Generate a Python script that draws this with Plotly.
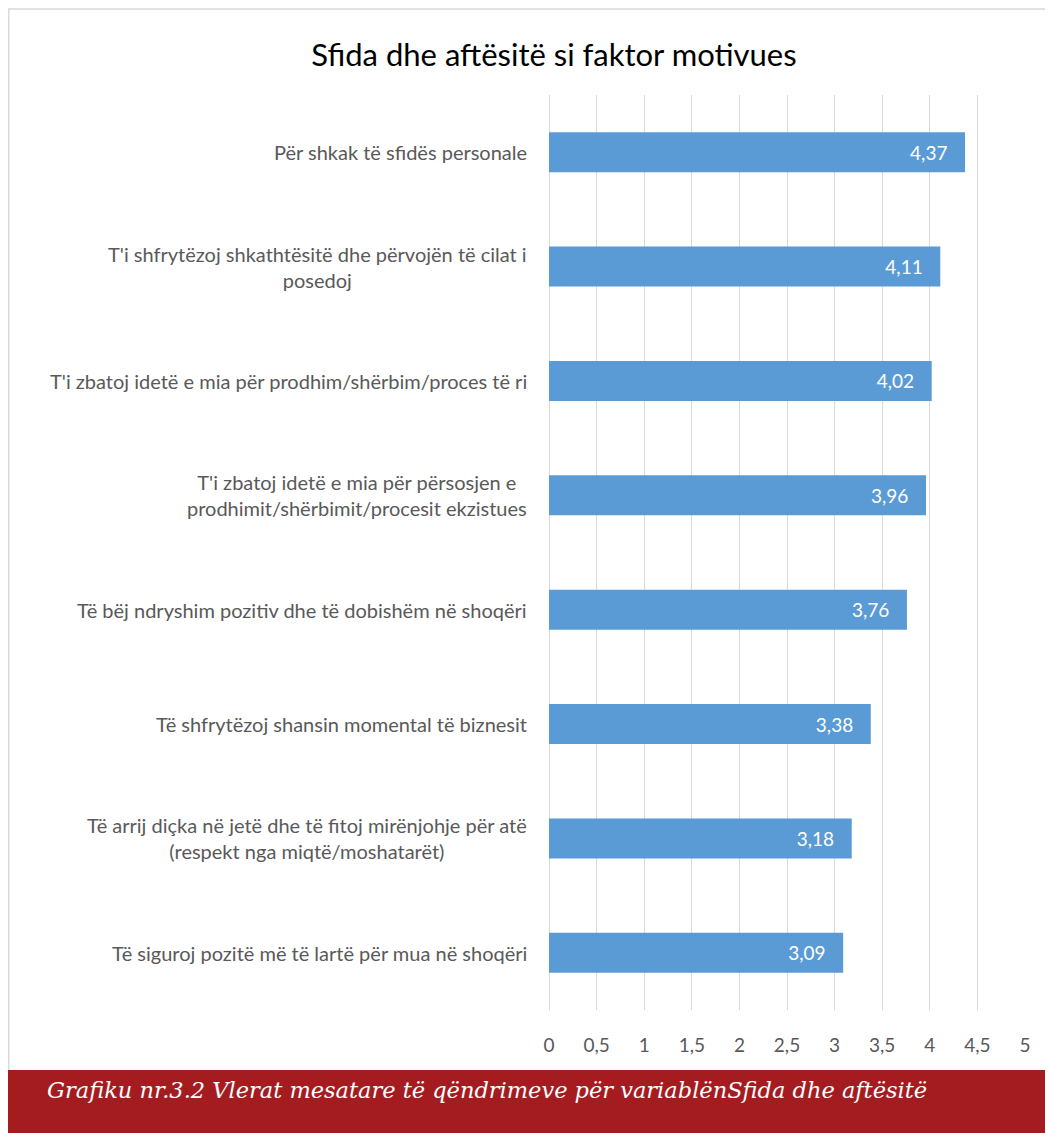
import plotly.graph_objects as go

categories = [
    "Për shkak të sfidës personale",
    "T'i shfrytëzoj shkathtësitë dhe përvojën të cilat i<br>posedoj",
    "T'i zbatoj idetë e mia për prodhim/shërbim/proces të ri",
    "T'i zbatoj idetë e mia për përsosjen e<br>prodhimit/shërbimit/procesit ekzistues",
    "Të bëj ndryshim pozitiv dhe të dobishëm në shoqëri",
    "Të shfrytëzoj shansin momental të biznesit",
    "Të arrij diçka në jetë dhe të fitoj mirënjohje për atë<br>(respekt nga miqtë/moshatarët)",
    "Të siguroj pozitë më të lartë për mua në shoqëri",
]
values = [4.37, 4.11, 4.02, 3.96, 3.76, 3.38, 3.18, 3.09]
tick_values = [0, 0.5, 1, 1.5, 2, 2.5, 3, 3.5, 4, 4.5, 5]
title_text = "Sfida dhe aftësitë si faktor motivues"
caption_text = "Grafiku nr.3.2 Vlerat mesatare të qëndrimeve për variablënSfida dhe aftësitë"

# page has an 8px body margin; work in figure pixel coordinates
O = 8
W, H = 1053 - O, 1133 - O
L, R, T, B = 549 - O, 1025 - O, 95 - O, 1010 - O  # plot area pixels

cat_ids = [f"c{i}" for i in range(len(categories))]

fig = go.Figure()
fig.add_trace(go.Bar(
    x=values, y=cat_ids, orientation="h",
    marker=dict(color="#5B9BD5", line=dict(width=0)),
    texttemplate="%{x:.2f}\u00a0\u00a0\u00a0", textposition="inside", insidetextanchor="end",
    textfont=dict(family="Lato", size=19, color="white"),
    cliponaxis=False,
))

annotations = []
for cid, lab in zip(cat_ids, categories):
    annotations.append(dict(
        x=0, y=cid, xref="x", yref="y", text=lab, showarrow=False,
        xanchor="right", yanchor="middle", align="center", xshift=-20,
        font=dict(family="Lato", size=20, color="#595959"),
    ))

px = lambda p: (p - L) / (R - L)
py = lambda p: (B - p) / (B - T)

annotations.append(dict(
    x=px(45 - O), y=py(1090 - O), xref="paper", yref="paper", text=caption_text,
    showarrow=False, xanchor="left", yanchor="middle",
    font=dict(family="DejaVu Serif", size=22.5, color="white", style="italic"),
))

shapes = [
    dict(type="rect", xref="paper", yref="paper", x0=px(0), x1=px(W + 5), y0=py(1070 - O), y1=py(H + 5),
         fillcolor="#A51C20", line=dict(width=0), layer="above"),
    dict(type="line", xref="paper", yref="paper", x0=px(0), x1=px(W + 5), y0=py(9 - O), y1=py(9 - O),
         line=dict(color="#D9D9D9", width=1.5)),
    dict(type="line", xref="paper", yref="paper", x0=px(0.7), x1=px(0.7), y0=py(9 - O), y1=py(1070 - O),
         line=dict(color="#D9D9D9", width=1.5)),
]

fig.update_layout(
    width=W, height=H,
    margin=dict(l=L, r=W - R, t=T, b=H - B, autoexpand=False),
    paper_bgcolor="white", plot_bgcolor="white",
    separators=", ",
    bargap=0.65,
    showlegend=False,
    title=dict(text=title_text, xref="container", x=(554 - O) / W, xanchor="center",
               yref="container", y=1 - (55 - O) / H, yanchor="middle",
               font=dict(family="Lato", size=31, color="black")),
    xaxis=dict(range=[0, 5], tickvals=tick_values, showgrid=True, gridcolor="#D9D9D9",
               gridwidth=1, zeroline=True, zerolinecolor="#D9D9D9", zerolinewidth=1,
               showline=False, ticks="", ticklabelstandoff=22,
               tickfont=dict(family="Lato", size=19, color="#595959"), fixedrange=True),
    yaxis=dict(categoryorder="array", categoryarray=cat_ids, autorange="reversed",
               showticklabels=False, showgrid=False, zeroline=False, showline=False, ticks=""),
    annotations=annotations,
    shapes=shapes,
)

fig.write_html("out.html")
